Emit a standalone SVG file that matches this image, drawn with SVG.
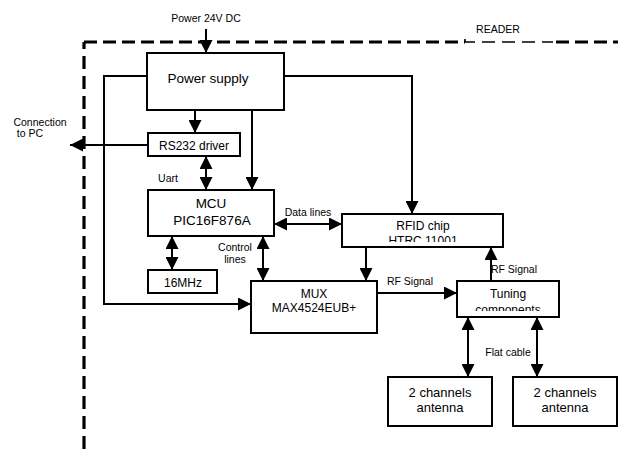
<svg xmlns="http://www.w3.org/2000/svg" width="618" height="449" viewBox="0 0 618 449">
<style>
text{font-family:"Liberation Sans",Arial,sans-serif;fill:#000;text-anchor:middle}
.box{fill:#fff;stroke:#000;stroke-width:2}
.c{fill:none;stroke:#000;stroke-width:2}
.lbl{font-size:10.5px}
.t12{font-size:12px}
.t13{font-size:13.5px}
.ant{font-size:13px}
.dash{fill:none;stroke:#000;stroke-width:3.2}
</style>
<defs>
<marker id="ah" markerUnits="userSpaceOnUse" markerWidth="13" markerHeight="13" refX="13" refY="6.5" orient="auto-start-reverse">
<path d="M0,0 L13,6.5 L0,13 z" fill="#000"/>
</marker>
<clipPath id="clipRfid"><rect x="343" y="215" width="159" height="27"/></clipPath>
<clipPath id="clipTun"><rect x="458" y="282" width="101" height="29"/></clipPath>
</defs>

<g id="reader-border">
<path class="dash" d="M84,449 V42" stroke-dasharray="13 7"/>
<path class="dash" d="M84,42 H465" stroke-dasharray="13 6"/>
<path fill="none" stroke="#000" stroke-width="1.6" d="M465,39 V42 H553" stroke-dasharray="13 7"/>
<path class="dash" d="M556,42 H618" stroke-dasharray="13 6"/>
<text class="lbl" x="498" y="33">READER</text>
</g>

<g id="connectors">
<line class="c" x1="206" y1="29" x2="206" y2="53" marker-end="url(#ah)"/>
<line class="c" x1="195" y1="110" x2="195" y2="133" marker-end="url(#ah)"/>
<line class="c" x1="252" y1="110" x2="252" y2="190" marker-end="url(#ah)"/>
<path class="c" d="M147,76 H104 V304 H251" marker-end="url(#ah)"/>
<path class="c" d="M284,76 H412 V214" marker-end="url(#ah)"/>
<line class="c" x1="148" y1="145" x2="70" y2="145" marker-end="url(#ah)"/>
<line class="c" x1="206" y1="156" x2="206" y2="190" marker-start="url(#ah)" marker-end="url(#ah)"/>
<line class="c" x1="172" y1="236" x2="172" y2="270" marker-start="url(#ah)" marker-end="url(#ah)"/>
<line class="c" x1="263" y1="236" x2="263" y2="281" marker-start="url(#ah)" marker-end="url(#ah)"/>
<line class="c" x1="274" y1="224" x2="342" y2="224" marker-start="url(#ah)" marker-end="url(#ah)"/>
<line class="c" x1="366" y1="247" x2="366" y2="281" marker-end="url(#ah)"/>
<line class="c" x1="377" y1="293" x2="457" y2="293" marker-end="url(#ah)"/>
<line class="c" x1="491" y1="281" x2="491" y2="247" marker-end="url(#ah)"/>
<line class="c" x1="468" y1="317" x2="468" y2="377" marker-start="url(#ah)" marker-end="url(#ah)"/>
<line class="c" x1="537" y1="317" x2="537" y2="377" marker-start="url(#ah)" marker-end="url(#ah)"/>
<text class="lbl" x="206" y="22">Power 24V DC</text>
<text class="lbl" x="40" y="126">Connection</text>
<text class="lbl" x="30" y="137"> to PC</text>
<text class="lbl" x="168" y="182">Uart</text>
<text class="lbl" x="308" y="216">Data lines</text>
<text class="lbl" x="235" y="251">Control</text>
<text class="lbl" x="235" y="263">lines</text>
<text class="lbl" x="410" y="285">RF Signal</text>
<text class="lbl" x="514" y="273">RF Signal</text>
<text class="lbl" x="508" y="356">Flat cable</text>
</g>

<g id="power-supply">
<rect class="box" x="147" y="53" width="137" height="57"/>
<text class="t13" x="208" y="83">Power supply</text>
</g>

<g id="rs232">
<rect class="box" x="148" y="133" width="92" height="23"/>
<text class="t12" x="194" y="150">RS232 driver</text>
</g>

<g id="mcu">
<rect class="box" x="148" y="190" width="126" height="46"/>
<text class="t13" x="211" y="208">MCU</text>
<text class="t13" x="212" y="225">PIC16F876A</text>
</g>

<g id="osc">
<rect class="box" x="148" y="270" width="69" height="23"/>
<text class="t12" x="183" y="287">16MHz</text>
</g>

<g id="rfid">
<rect class="box" x="342" y="214" width="161" height="33"/>
<text class="t12" x="423" y="230">RFID chip</text>
<text class="t12" x="423" y="245" clip-path="url(#clipRfid)">HTRC 11001</text>
</g>

<g id="mux">
<rect class="box" x="251" y="281" width="126" height="52"/>
<text class="t12" x="314" y="298">MUX</text>
<text class="t12" x="314" y="312">MAX4524EUB+</text>
</g>

<g id="tuning">
<rect class="box" x="457" y="281" width="102" height="36"/>
<text class="t12" x="508" y="298">Tuning</text>
<text class="t12" x="508" y="314" clip-path="url(#clipTun)">components</text>
</g>

<g id="antenna1">
<rect class="box" x="388" y="377" width="104" height="49"/>
<text class="ant" x="440" y="397">2 channels</text>
<text class="ant" x="440" y="412">antenna</text>
</g>

<g id="antenna2">
<rect class="box" x="513" y="377" width="104" height="49"/>
<text class="ant" x="565" y="397">2 channels</text>
<text class="ant" x="565" y="412">antenna</text>
</g>
</svg>
